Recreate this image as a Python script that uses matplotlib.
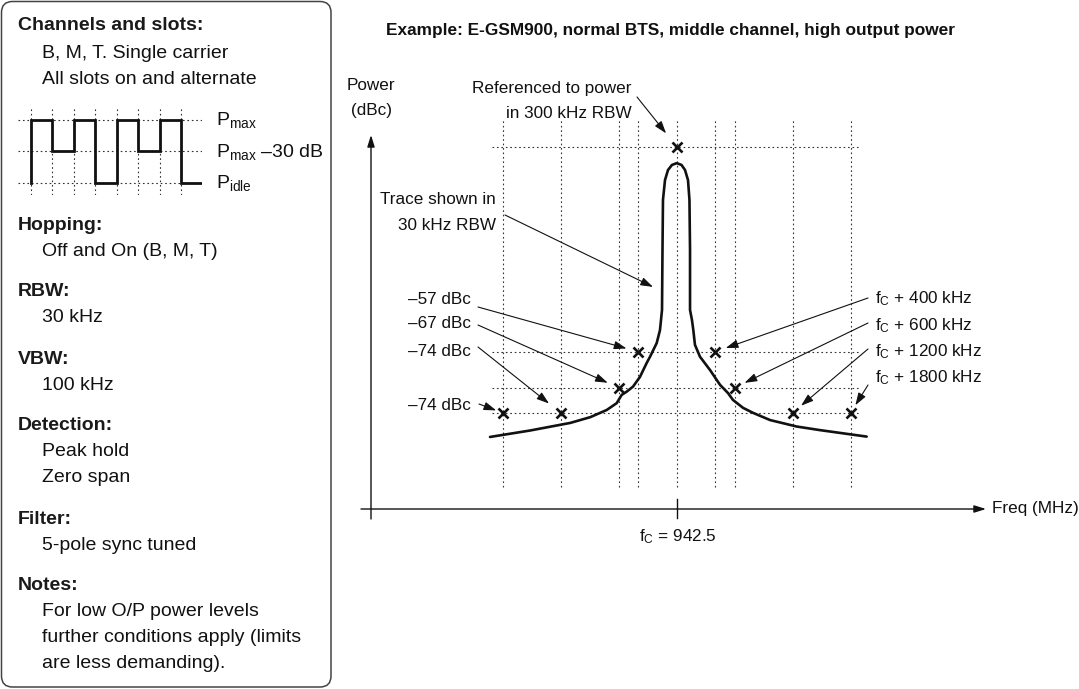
import numpy as np
import matplotlib
matplotlib.use("Agg")
import matplotlib.pyplot as plt
from matplotlib import font_manager
from matplotlib.patches import FancyBboxPatch

# ---------------- data ----------------
offsets_khz = [-1800, -1200, -600, -400, 400, 600, 1200, 1800]
limits_dbc = [-74, -74, -67, -57, -57, -67, -74, -74]
ref_offset_khz = 0
ref_level_dbc = 0
grid_levels_dbc = [0, -57, -67, -74]

left_labels = ["–57 dBc", "–67 dBc", "–74 dBc", "–74 dBc"]
left_targets_khz = [-400, -600, -1200, -1800]
left_targets_dbc = [-57, -67, -74, -74]

right_labels = [r"f$_\mathregular{C}$ + 400 kHz", r"f$_\mathregular{C}$ + 600 kHz",
                r"f$_\mathregular{C}$ + 1200 kHz", r"f$_\mathregular{C}$ + 1800 kHz"]
right_targets_khz = [400, 600, 1200, 1800]
right_targets_dbc = [-57, -67, -74, -74]

trace_khz = [-1932, -1516, -1102, -895, -724, -621, -569, -517, -452, -380, -310, -276,
             -207, -173, -152, -147, -142, -121, -90, -49, 0, 50, 86, 117, 132, 138, 138,
             158, 172, 189, 241, 345, 448, 531, 582, 686, 790, 966, 1242, 1483, 1966]
trace_dbc = [-80.7, -78.9, -76.8, -75.2, -73.2, -71.3, -69.0, -68.1, -66.7, -64.0, -60.1,
             -58.4, -54.6, -51.0, -45.4, -28.7, -14.8, -9.3, -6.5, -5.1, -4.6, -5.1, -6.5,
             -9.3, -14.8, -28.7, -45.4, -48.2, -51.0, -55.1, -58.4, -62.1, -66.2, -68.5,
             -70.4, -72.6, -74.0, -76.0, -77.8, -78.8, -80.6]
trace_pointer_khz, trace_pointer_dbc = -245, -39

center_freq_mhz = 942.5

slot_levels = [2, 1, 2, 0, 2, 1, 2]          # 2 = Pmax, 1 = Pmax-30 dB, 0 = Pidle
level_labels = [r"P$_\mathregular{max}$", r"P$_\mathregular{max}$ –30 dB", r"P$_\mathregular{idle}$"]

panel_items = [
    ("Channels and slots:", ["B, M, T. Single carrier", "All slots on and alternate"]),
    ("Hopping:", ["Off and On (B, M, T)"]),
    ("RBW:", ["30 kHz"]),
    ("VBW:", ["100 kHz"]),
    ("Detection:", ["Peak hold", "Zero span"]),
    ("Filter:", ["5-pole sync tuned"]),
    ("Notes:", ["For low O/P power levels", "further conditions apply (limits",
                "are less demanding)."]),
]
title = "Example: E-GSM900, normal BTS, middle channel, high output power"

# ---------------- fonts ----------------
def pick(fams):
    for f in fams:
        try:
            font_manager.findfont(f, fallback_to_default=False)
            return f
        except Exception:
            pass
    return "DejaVu Sans"

FONT = pick(["Liberation Sans", "Arial", "Roboto", "DejaVu Sans"])
plt.rcParams["font.family"] = [FONT, "DejaVu Sans"]
plt.rcParams["mathtext.fontset"] = "custom"
plt.rcParams["mathtext.rm"] = FONT
plt.rcParams["mathtext.it"] = FONT + ":italic"
plt.rcParams["mathtext.bf"] = FONT + ":bold"

# ---------------- layout ----------------
W, H = 1079, 689
fig = plt.figure(figsize=(W / 100, H / 100), dpi=100)

ax_px = fig.add_axes([0, 0, 1, 1])
ax_px.set_xlim(0, W)
ax_px.set_ylim(H, 0)
ax_px.axis("off")

# data axes: 0 kHz at x-pixel 676.7, 0 dBc at y-pixel 146.6
px0, kpx = 676.7, 0.09662
py0, dpx = 146.6, 3.598
ax = fig.add_axes([0, 0, 1, 1])
ax.set_xlim(-px0 / kpx, (W - px0) / kpx)
ax.set_ylim((py0 - H) / dpx, py0 / dpx)
ax.axis("off")
ax.patch.set_alpha(0)

INK = "#111111"
GRID = "#333333"
S_PANEL = 14
S_CHART = 12.3

# left panel box
box = FancyBboxPatch((1.5, 1.5), 329.5, 685.5, boxstyle="round,pad=0,rounding_size=11",
                     fc="white", ec="#444444", lw=1.1, transform=ax_px.transData)
ax_px.add_patch(box)

panel_y = {
    "Channels and slots:": [26, 53, 79],
    "Hopping:": [226, 252],
    "RBW:": [292, 318],
    "VBW:": [360, 386],
    "Detection:": [426, 451, 478],
    "Filter:": [520, 546],
    "Notes:": [586, 612, 638, 664],
}
for head, lines in panel_items:
    ys = panel_y[head]
    ax_px.text(18, ys[0], head, fontsize=S_PANEL, fontweight="bold", ha="left",
               va="center", color="#1a1a1a")
    for ln, yy in zip(lines, ys[1:]):
        ax_px.text(42, yy, ln, fontsize=S_PANEL, ha="left", va="center", color=INK)

# slot diagram
x0p, x1p, y0p, y1p = 18, 202, 108, 195
ax_s = fig.add_axes([x0p / W, 1 - y1p / H, (x1p - x0p) / W, (y1p - y0p) / H])
ax_s.set_xlim(-0.607, 7.98)
ax_s.set_ylim(-0.392, 2.383)
ax_s.axis("off")
ax_s.patch.set_alpha(0)
n = len(slot_levels)
for i in range(n + 1):
    ax_s.axvline(i, color=GRID, lw=0.8, ls=(0, (1.5, 2.5)))
for lv in (0, 1, 2):
    ax_s.axhline(lv, color=GRID, lw=0.8, ls=(0, (1.5, 2.5)))
xs, ys = [0], [0]
for i, lv in enumerate(slot_levels):
    xs += [i, i + 1]
    ys += [lv, lv]
xs += [n, n + 1]
ys += [0, 0]
ax_s.plot(xs, ys, color=INK, lw=2.0, solid_joinstyle="miter")
for lbl, yy in zip(level_labels, [120, 152, 183]):
    ax_px.text(216, yy, lbl, fontsize=S_PANEL, ha="left", va="center", color=INK)

# title
ax_px.text(670, 30, title, fontsize=12.4, fontweight="bold", ha="center", va="center", color=INK)

# axes arrows
ax_px.annotate("", xy=(371, 135), xytext=(371, 519),
               arrowprops=dict(arrowstyle="-|>,head_length=0.7,head_width=0.22", lw=1.0,
                               color=INK, shrinkA=0, shrinkB=0, mutation_scale=10))
ax_px.annotate("", xy=(986, 509), xytext=(361, 509),
               arrowprops=dict(arrowstyle="-|>,head_length=0.7,head_width=0.22", lw=1.0,
                               color=INK, shrinkA=0, shrinkB=0, mutation_scale=10))
ax_px.text(371, 85, "Power", fontsize=S_CHART, ha="center", va="center", color=INK)
ax_px.text(371, 111, "(dBc)", fontsize=S_CHART, ha="center", va="center", color=INK)
ax_px.text(992, 508, "Freq (MHz)", fontsize=S_CHART, ha="left", va="center", color=INK)

# grid (dotted)
gx_lo, gx_hi = -1911, 1896
gy_lo, gy_hi = -94.6, 7.4
ax.vlines(sorted(offsets_khz + [ref_offset_khz]), gy_lo, gy_hi, colors=GRID, lw=0.8,
          linestyles=[(0, (1.5, 2.5))])
ax.hlines(grid_levels_dbc, gx_lo, gx_hi, colors=GRID, lw=0.8, linestyles=[(0, (1.5, 2.5))])

# centre tick and label
ax.plot([ref_offset_khz, ref_offset_khz], [(py0 - 499) / dpx, (py0 - 518) / dpx],
        color=INK, lw=1.0)
ax_px.text(678, 537, r"f$_\mathregular{C}$ = " + f"{center_freq_mhz}", fontsize=S_CHART,
           ha="center", va="center", color=INK)

# trace
ax.plot(trace_khz, trace_dbc, color=INK, lw=1.9, solid_joinstyle="round",
        solid_capstyle="round", zorder=4)

# limit markers
ax.plot(offsets_khz, limits_dbc, ls="none", marker="x", ms=7.5, mew=1.9, color=INK, zorder=5)
ax.plot([ref_offset_khz], [ref_level_dbc], ls="none", marker="x", ms=7.5, mew=1.9,
        color=INK, zorder=5)

ARW = dict(arrowstyle="-|>,head_length=0.75,head_width=0.25", lw=0.8, color=INK,
           shrinkA=0, mutation_scale=10)

def arrow(start_px, target, shrink_px):
    ax.annotate("", xy=target, xycoords="data", xytext=start_px,
                textcoords=ax_px.transData,
                arrowprops=dict(ARW, shrinkB=shrink_px * 0.72))

# reference label
ax_px.text(632, 89, "Referenced to power", fontsize=S_CHART, ha="right", va="center", color=INK)
ax_px.text(632, 114, "in 300 kHz RBW", fontsize=S_CHART, ha="right", va="center", color=INK)
arrow((637, 97), (ref_offset_khz, ref_level_dbc), 17)

# trace label
ax_px.text(496, 200, "Trace shown in", fontsize=S_CHART, ha="right", va="center", color=INK)
ax_px.text(496, 226, "30 kHz RBW", fontsize=S_CHART, ha="right", va="center", color=INK)
arrow((505, 215), (trace_pointer_khz, trace_pointer_dbc), 0)

# left labels
left_y = [300, 324, 352, 406]
left_start = [(478, 307), (478, 325), (478, 347), (479, 404)]
left_shrink = [12, 12, 15, 7]
for lbl, yy, st, tk, td, sh in zip(left_labels, left_y, left_start, left_targets_khz,
                                   left_targets_dbc, left_shrink):
    ax_px.text(471, yy, lbl, fontsize=S_CHART, ha="right", va="center", color=INK)
    arrow(st, (tk, td), sh)

# right labels
right_y = [299, 326, 352, 378]
right_start = [(868, 298), (868, 323), (868, 349), (868, 385)]
right_shrink = [11, 11, 11, 9]
for lbl, yy, st, tk, td, sh in zip(right_labels, right_y, right_start, right_targets_khz,
                                   right_targets_dbc, right_shrink):
    ax_px.text(875, yy, lbl, fontsize=S_CHART, ha="left", va="center", color=INK)
    arrow(st, (tk, td), sh)

fig.savefig("out.png", dpi=100, facecolor="white")
